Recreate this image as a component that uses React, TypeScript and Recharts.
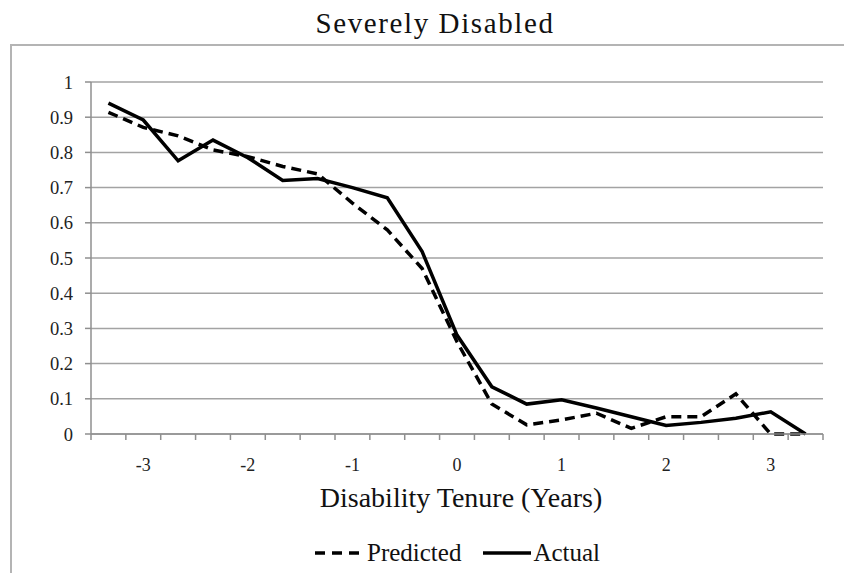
import { LineChart, Line, XAxis, YAxis, CartesianGrid, Legend, Label } from "recharts";

// quarter-of-a-year steps, labelled only at whole years
const tenure = [
  "-3.33", "-3", "-2.67", "-2.33", "-2", "-1.67", "-1.33", "-1", "-0.67", "-0.33",
  "0", "0.33", "0.67", "1", "1.33", "1.67", "2", "2.33", "2.67", "3", "3.33",
];
const predicted = [
  0.914, 0.871, 0.847, 0.807, 0.788, 0.76, 0.739, 0.656, 0.58, 0.47,
  0.262, 0.085, 0.026, 0.04, 0.059, 0.016, 0.049, 0.049, 0.114, 0, 0,
];
const actual = [
  0.94, 0.892, 0.776, 0.835, 0.785, 0.72, 0.726, 0.7, 0.671, 0.518,
  0.281, 0.134, 0.085, 0.097, 0.074, 0.049, 0.024, 0.033, 0.045, 0.063, 0,
];
const yTicks = [0, 0.1, 0.2, 0.3, 0.4, 0.5, 0.6, 0.7, 0.8, 0.9, 1];
const xLabels = ["-3", "-2", "-1", "0", "1", "2", "3"];

const data = tenure.map((t, i) => ({ tenure: t, predicted: predicted[i], actual: actual[i] }));

const W = 844;
const H = 573;
const FONT = '"Liberation Serif", "DejaVu Serif", serif';
const AXIS = "#8f8f8f";
const margin = { top: 82, right: 21, bottom: 0, left: 0 };
const Y_W = 91;
const step = (W - Y_W - margin.right) / tenure.length;

const XTick = (props: any) => {
  const { x, y, payload, index } = props;
  const top = y - 18;
  return (
    <g>
      <line x1={x - step / 2} x2={x - step / 2} y1={top} y2={top + 6} stroke={AXIS} strokeWidth={1.5} />
      {index === tenure.length - 1 && (
        <line x1={x + step / 2} x2={x + step / 2} y1={top} y2={top + 6} stroke={AXIS} strokeWidth={1.5} />
      )}
      {xLabels.includes(payload.value) && (
        <text x={x} y={y} dy={19} textAnchor="middle" style={{ fontFamily: FONT }} fontSize={18} fill="#222">
          {payload.value}
        </text>
      )}
    </g>
  );
};

const LegendBox = () => (
  <div
    style={{
      height: 40,
      display: "flex",
      alignItems: "center",
      paddingLeft: 315,
      fontFamily: FONT,
      fontSize: 25,
      color: "#111",
    }}
  >
    <svg width={46} height={6}>
      <line x1={0} y1={3} x2={46} y2={3} stroke="#000" strokeWidth={3.5} strokeDasharray="10 7" />
    </svg>
    <span style={{ marginLeft: 6, marginRight: 22 }}>Predicted</span>
    <svg width={48} height={6}>
      <line x1={0} y1={3} x2={48} y2={3} stroke="#000" strokeWidth={3.5} />
    </svg>
    <span style={{ marginLeft: 2 }}>Actual</span>
  </div>
);

export default function App() {
  return (
    <div
      style={{
        position: "absolute",
        left: 0,
        top: 0,
        width: W,
        height: H,
        overflow: "hidden",
        background: "#fff",
        fontFamily: FONT,
      }}
    >
      <div
        style={{
          position: "absolute",
          left: 0,
          top: 7,
          width: 870,
          textAlign: "center",
          fontSize: 29,
          letterSpacing: 1.6,
          color: "#111",
        }}
      >
        Severely Disabled
      </div>
      <div
        style={{
          position: "absolute",
          left: 10,
          top: 44,
          width: 850,
          height: 600,
          border: "2px solid #b4b4b4",
          boxSizing: "border-box",
        }}
      />
      <div style={{ position: "absolute", left: 0, top: 0 }}>
        <LineChart width={W} height={H} data={data} margin={margin}>
          <CartesianGrid vertical={false} stroke="#a3a3a3" strokeWidth={1.5} />
          <XAxis
            dataKey="tenure"
            interval={0}
            height={99}
            padding={{ left: step / 2, right: step / 2 }}
            tickLine={false}
            tickSize={6}
            tickMargin={12}
            tick={<XTick />}
            stroke={AXIS}
            strokeWidth={1.5}
          >
            <Label
              content={({ viewBox }: any) => (
                <text
                  x={viewBox.x + viewBox.width / 2 + 4}
                  y={viewBox.y + 73}
                  textAnchor="middle"
                  style={{ fontFamily: FONT }}
                  fontSize={28}
                  fill="#111"
                >
                  Disability Tenure (Years)
                </text>
              )}
            />
          </XAxis>
          <YAxis
            width={Y_W}
            domain={[0, 1]}
            ticks={yTicks}
            interval={0}
            tickSize={6}
            tickMargin={12}
            stroke={AXIS}
            strokeWidth={1.5}
            tick={{ style: { fontFamily: FONT }, fontSize: 18.5, fill: "#222" }}
            tickFormatter={(v: number) => String(Math.round(v * 10) / 10)}
          />
          <Legend verticalAlign="bottom" height={40} content={<LegendBox />} />
          <Line
            type="linear"
            dataKey="predicted"
            stroke="#000"
            strokeWidth={3.5}
            strokeDasharray="10 6"
            dot={false}
            isAnimationActive={false}
          />
          <Line
            type="linear"
            dataKey="actual"
            stroke="#000"
            strokeWidth={3.5}
            dot={false}
            isAnimationActive={false}
          />
        </LineChart>
      </div>
    </div>
  );
}
